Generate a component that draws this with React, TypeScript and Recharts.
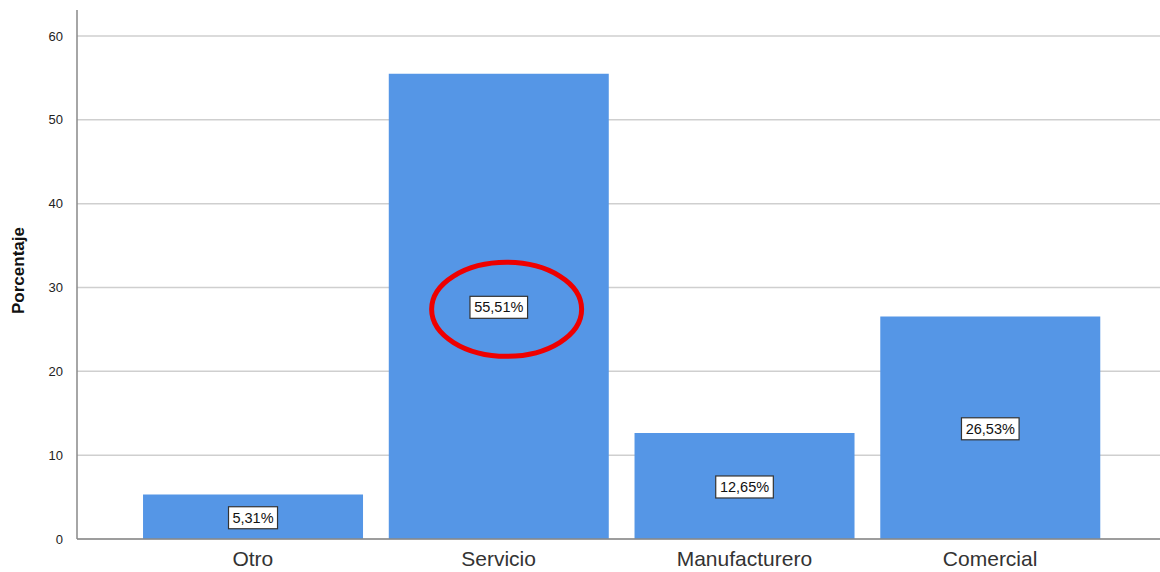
import { BarChart, Bar, XAxis, YAxis, CartesianGrid, ReferenceDot, LabelList } from 'recharts';

// Sectores y porcentajes
const categories = ['Otro', 'Servicio', 'Manufacturero', 'Comercial'];
const percentages = [5.31, 55.51, 12.65, 26.53];
const yTicks = [0, 10, 20, 30, 40, 50, 60];

// anotación: elipse roja alrededor de la etiqueta de Servicio
const highlightCategory = 'Servicio';
const highlightValue = 27.4;

const chartData = categories.map((name, i) => ({ name, value: percentages[i] }));

const fmt = (v: number) => v.toFixed(2).replace('.', ',') + '%';

const BoxLabel = (props: any) => {
  const { x, y, width, height, value } = props;
  const cx = x + width / 2;
  const cy = y + height / 2 + 1;
  const text = fmt(value);
  const w = text.length * 8.6 + 6;
  return (
    <g>
      <rect x={cx - w / 2} y={cy - 11} width={w} height={22} fill="#fff" stroke="#333" strokeWidth={1.2} />
      <text x={cx} y={cy + 5} textAnchor="middle" fontSize={14.5} fill="#111" fontFamily="Liberation Sans, Arial, sans-serif">
        {text}
      </text>
    </g>
  );
};

const Ellipse = (props: any) => {
  const { cx, cy } = props;
  return <ellipse cx={cx + 8} cy={cy} rx={75} ry={47} fill="none" stroke="#ee0000" strokeWidth={5} />;
};

export default function App() {
  return (
    <div style={{ position: 'absolute', left: 0, top: 0, background: '#fff', fontFamily: 'Liberation Sans, Arial, sans-serif' }}>
      <BarChart width={1160} height={572} data={chartData} margin={{ top: 10, right: 0, left: 0, bottom: 3 }} barCategoryGap="5.3%">
        <CartesianGrid vertical={false} horizontalValues={yTicks} stroke="#cfcfcf" strokeWidth={1.5} />
        <XAxis
          dataKey="name"
          height={30}
          padding={{ left: 53, right: 47 }}
          tickLine={false}
          stroke="#888"
          strokeWidth={1.5}
          tick={{ fill: '#333', fontSize: 21 }}
          tickMargin={6}
        />
        <YAxis
          width={77}
          domain={[0, 63.1]}
          ticks={yTicks}
          tickLine={false}
          stroke="#888"
          strokeWidth={1.5}
          tick={{ fill: '#222', fontSize: 13 }}
          tickMargin={8}
          label={{ value: 'Porcentaje', angle: -90, position: 'insideLeft', offset: 18, dy: -4, style: { fontSize: 17, fontWeight: 'bold', fill: '#111', textAnchor: 'middle' } }}
        />
        <Bar dataKey="value" fill="#5596e6" isAnimationActive={false}>
          <LabelList dataKey="value" content={BoxLabel} />
        </Bar>
        <ReferenceDot x={highlightCategory} y={highlightValue} shape={Ellipse} />
      </BarChart>
    </div>
  );
}
